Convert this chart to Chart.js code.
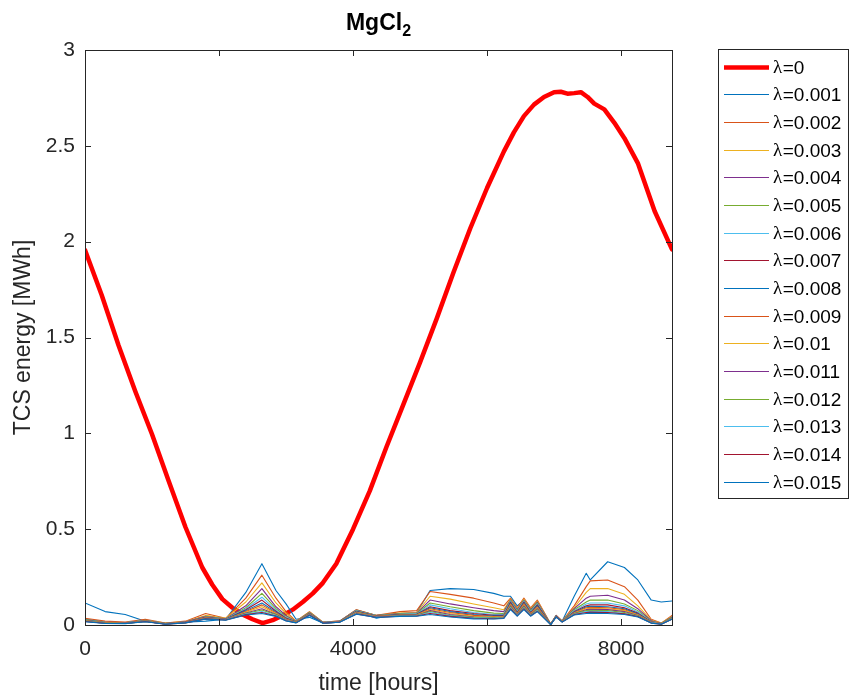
<!DOCTYPE html>
<html>
<head>
<meta charset="utf-8">
<title>MgCl2 TCS energy</title>
<script src="https://cdn.jsdelivr.net/npm/chart.js@4.4.1/dist/chart.umd.min.js"></script>
<style>
  html, body { margin: 0; padding: 0; background: #fff; }
  #wrap { width: 854px; height: 699px; }
</style>
</head>
<body>
<div id="wrap"><canvas id="tcsChart" width="854" height="699"></canvas></div>
<script>
var X_TICKS = [0, 2000, 4000, 6000, 8000];
var Y_TICKS = [0, 0.5, 1, 1.5, 2, 2.5, 3];

// time axis for the lambda > 0 runs (hours)
var HOURS = [0, 300, 600, 900, 1200, 1500, 1800, 2100, 2400, 2640,
             2850, 3000, 3150, 3350, 3550, 3800, 4050, 4350, 4700, 4950,
             5150, 5450, 5800, 6100, 6250, 6350, 6450, 6550, 6650, 6750,
             6950, 7030, 7120, 7300, 7480, 7540, 7800, 8050, 8250, 8450,
             8600, 8760];

// lambda = 0 run
var RED_HOURS = [0, 250, 500, 750, 1000, 1250, 1500, 1750, 1900, 2050,
                 2200, 2350, 2500, 2650, 2800, 2950, 3100, 3250, 3400, 3550,
                 3750, 4000, 4250, 4500, 4750, 5000, 5250, 5500, 5750, 6000,
                 6250, 6400, 6550, 6700, 6850, 7000, 7100, 7200, 7300, 7400,
                 7500, 7600, 7750, 7900, 8050, 8250, 8500, 8760];
var RED_ENERGY = [1.956, 1.72, 1.46, 1.22, 0.995, 0.75, 0.51, 0.30, 0.21, 0.135,
                  0.09, 0.055, 0.03, 0.01, 0.025, 0.05, 0.08, 0.12, 0.165, 0.22,
                  0.32, 0.50, 0.70, 0.93, 1.15, 1.37, 1.60, 1.84, 2.07, 2.28,
                  2.47, 2.57, 2.655, 2.715, 2.755, 2.78, 2.782, 2.772, 2.775, 2.78,
                  2.755, 2.72, 2.69, 2.62, 2.54, 2.41, 2.16, 1.96];

var lam001 = [0.115, 0.07, 0.055, 0.02, 0.01, 0.015, 0.02, 0.03, 0.17, 0.32, 0.18, 0.11, 0.03, 0.04, 0.01, 0.015, 0.07, 0.035, 0.06, 0.065, 0.18, 0.19, 0.185, 0.165, 0.15, 0.15, 0.1, 0.13, 0.08, 0.1, 0.005, 0.04, 0.02, 0.15, 0.27, 0.235, 0.33, 0.30, 0.235, 0.13, 0.12, 0.125];
var lam002 = [0.035, 0.02, 0.015, 0.03, 0.01, 0.02, 0.06, 0.035, 0.14, 0.26, 0.14, 0.07, 0.02, 0.07, 0.015, 0.02, 0.08, 0.05, 0.07, 0.075, 0.175, 0.16, 0.14, 0.115, 0.1, 0.14, 0.09, 0.14, 0.09, 0.13, 0.005, 0.05, 0.02, 0.1, 0.2, 0.23, 0.235, 0.2, 0.13, 0.03, 0.01, 0.05];
var lam003 = [0.03, 0.015, 0.012, 0.025, 0.01, 0.018, 0.05, 0.035, 0.12, 0.22, 0.115, 0.06, 0.02, 0.068, 0.015, 0.02, 0.08, 0.05, 0.062, 0.065, 0.15, 0.135, 0.11, 0.09, 0.08, 0.135, 0.085, 0.135, 0.085, 0.125, 0.005, 0.05, 0.02, 0.09, 0.17, 0.19, 0.19, 0.16, 0.1, 0.025, 0.01, 0.045];
var lam004 = [0.03, 0.015, 0.012, 0.025, 0.008, 0.017, 0.045, 0.033, 0.1, 0.19, 0.095, 0.05, 0.018, 0.066, 0.014, 0.02, 0.078, 0.05, 0.06, 0.062, 0.13, 0.11, 0.09, 0.075, 0.07, 0.13, 0.08, 0.13, 0.08, 0.12, 0.004, 0.05, 0.02, 0.085, 0.14, 0.15, 0.155, 0.13, 0.085, 0.022, 0.008, 0.042];
var lam005 = [0.028, 0.014, 0.011, 0.024, 0.008, 0.016, 0.043, 0.032, 0.09, 0.165, 0.085, 0.045, 0.017, 0.064, 0.013, 0.019, 0.076, 0.049, 0.058, 0.06, 0.115, 0.095, 0.075, 0.062, 0.06, 0.128, 0.075, 0.128, 0.075, 0.115, 0.004, 0.048, 0.02, 0.08, 0.12, 0.13, 0.13, 0.11, 0.075, 0.02, 0.008, 0.04];
var lam006 = [0.026, 0.013, 0.011, 0.023, 0.007, 0.015, 0.041, 0.031, 0.085, 0.145, 0.078, 0.04, 0.016, 0.062, 0.013, 0.019, 0.074, 0.048, 0.056, 0.058, 0.105, 0.085, 0.065, 0.055, 0.055, 0.125, 0.07, 0.125, 0.07, 0.11, 0.004, 0.048, 0.019, 0.075, 0.11, 0.115, 0.115, 0.1, 0.068, 0.018, 0.007, 0.038];
var lam007 = [0.025, 0.012, 0.01, 0.022, 0.007, 0.015, 0.04, 0.03, 0.08, 0.13, 0.072, 0.036, 0.015, 0.06, 0.012, 0.018, 0.072, 0.047, 0.054, 0.056, 0.095, 0.075, 0.06, 0.05, 0.05, 0.12, 0.065, 0.12, 0.065, 0.105, 0.004, 0.047, 0.019, 0.07, 0.1, 0.105, 0.105, 0.09, 0.062, 0.017, 0.007, 0.037];
var lam008 = [0.024, 0.012, 0.01, 0.021, 0.006, 0.014, 0.038, 0.03, 0.075, 0.115, 0.067, 0.033, 0.015, 0.058, 0.012, 0.018, 0.07, 0.046, 0.053, 0.055, 0.09, 0.07, 0.055, 0.047, 0.048, 0.115, 0.062, 0.115, 0.062, 0.1, 0.003, 0.046, 0.018, 0.067, 0.095, 0.097, 0.095, 0.085, 0.058, 0.016, 0.006, 0.036];
var lam009 = [0.023, 0.011, 0.009, 0.02, 0.006, 0.014, 0.037, 0.029, 0.07, 0.105, 0.063, 0.031, 0.014, 0.057, 0.011, 0.017, 0.068, 0.045, 0.052, 0.053, 0.085, 0.065, 0.05, 0.044, 0.046, 0.11, 0.06, 0.11, 0.06, 0.095, 0.003, 0.046, 0.018, 0.064, 0.09, 0.092, 0.09, 0.08, 0.055, 0.015, 0.006, 0.035];
var lam010 = [0.022, 0.011, 0.009, 0.02, 0.006, 0.013, 0.036, 0.028, 0.066, 0.095, 0.06, 0.029, 0.014, 0.056, 0.011, 0.017, 0.066, 0.044, 0.05, 0.052, 0.08, 0.06, 0.045, 0.041, 0.044, 0.105, 0.057, 0.105, 0.057, 0.09, 0.003, 0.045, 0.018, 0.062, 0.085, 0.087, 0.085, 0.075, 0.052, 0.014, 0.006, 0.034];
var lam011 = [0.021, 0.01, 0.009, 0.019, 0.005, 0.013, 0.035, 0.028, 0.063, 0.085, 0.056, 0.027, 0.013, 0.055, 0.011, 0.016, 0.064, 0.043, 0.049, 0.05, 0.075, 0.055, 0.042, 0.039, 0.042, 0.1, 0.054, 0.1, 0.054, 0.085, 0.003, 0.045, 0.017, 0.06, 0.08, 0.082, 0.08, 0.07, 0.05, 0.013, 0.005, 0.033];
var lam012 = [0.02, 0.01, 0.008, 0.019, 0.005, 0.012, 0.034, 0.027, 0.06, 0.078, 0.053, 0.025, 0.013, 0.054, 0.01, 0.016, 0.062, 0.042, 0.048, 0.049, 0.07, 0.05, 0.04, 0.037, 0.04, 0.095, 0.052, 0.095, 0.052, 0.08, 0.003, 0.044, 0.017, 0.058, 0.075, 0.077, 0.075, 0.065, 0.048, 0.012, 0.005, 0.032];
var lam013 = [0.019, 0.009, 0.008, 0.018, 0.005, 0.012, 0.033, 0.027, 0.057, 0.07, 0.05, 0.024, 0.012, 0.053, 0.01, 0.015, 0.06, 0.041, 0.047, 0.048, 0.065, 0.048, 0.037, 0.035, 0.038, 0.09, 0.05, 0.09, 0.05, 0.075, 0.002, 0.044, 0.016, 0.056, 0.07, 0.072, 0.07, 0.06, 0.046, 0.011, 0.005, 0.031];
var lam014 = [0.018, 0.009, 0.008, 0.018, 0.004, 0.011, 0.032, 0.026, 0.054, 0.065, 0.047, 0.022, 0.012, 0.052, 0.01, 0.015, 0.058, 0.04, 0.046, 0.047, 0.06, 0.045, 0.035, 0.033, 0.036, 0.085, 0.048, 0.085, 0.048, 0.072, 0.002, 0.043, 0.016, 0.054, 0.065, 0.067, 0.065, 0.058, 0.044, 0.01, 0.004, 0.03];
var lam015 = [0.017, 0.008, 0.007, 0.017, 0.004, 0.011, 0.031, 0.025, 0.052, 0.06, 0.045, 0.021, 0.011, 0.05, 0.009, 0.014, 0.056, 0.039, 0.045, 0.046, 0.055, 0.042, 0.032, 0.031, 0.034, 0.08, 0.046, 0.08, 0.046, 0.07, 0.002, 0.042, 0.015, 0.052, 0.06, 0.062, 0.06, 0.055, 0.042, 0.01, 0.004, 0.03];

var LAMBDAS = ['0', '0.001', '0.002', '0.003', '0.004', '0.005', '0.006', '0.007',
               '0.008', '0.009', '0.01', '0.011', '0.012', '0.013', '0.014', '0.015'];
var SERIES = [lam001, lam002, lam003, lam004, lam005, lam006, lam007, lam008,
              lam009, lam010, lam011, lam012, lam013, lam014, lam015];

// matlab default line colour order
var COLORS = ['#0072BD', '#D95319', '#EDB120', '#7E2F8E', '#77AC30', '#4DBEEE', '#A2142F'];
var AXIS_COLOR = '#262626';

var datasets = [];
datasets.push({
    label: 'λ=' + LAMBDAS[0],
    data: RED_HOURS.map(function(h, i) { return {x: h, y: RED_ENERGY[i]}; }),
    borderColor: '#ff0000',
    borderWidth: 4.5,
    order: 100
});
SERIES.forEach(function(s, k) {
    datasets.push({
        label: 'λ=' + LAMBDAS[k + 1],
        data: HOURS.map(function(h, i) { return {x: h, y: s[i]}; }),
        borderColor: COLORS[k % COLORS.length],
        borderWidth: 1.1,
        order: 15 - k
    });
});

// box round the axes, inward ticks on all four sides
var axesBox = {
    id: 'axesBox',
    afterDatasetsDraw: function(chart) {
        var ctx = chart.ctx, a = chart.chartArea;
        var xs = chart.scales.x, ys = chart.scales.y;
        var len = 6;
        ctx.save();
        ctx.strokeStyle = AXIS_COLOR;
        ctx.lineWidth = 1;
        ctx.strokeRect(a.left + 0.5, a.top + 0.5, a.right - a.left, a.bottom - a.top);
        ctx.beginPath();
        xs.ticks.forEach(function(t) {
            var px = Math.round(xs.getPixelForValue(t.value)) + 0.5;
            ctx.moveTo(px, a.bottom); ctx.lineTo(px, a.bottom - len);
            ctx.moveTo(px, a.top); ctx.lineTo(px, a.top + len);
        });
        ys.ticks.forEach(function(t) {
            var py = Math.round(ys.getPixelForValue(t.value)) + 0.5;
            ctx.moveTo(a.left, py); ctx.lineTo(a.left + len, py);
            ctx.moveTo(a.right, py); ctx.lineTo(a.right - len, py);
        });
        ctx.stroke();
        ctx.restore();
    }
};

// title with subscript
var subTitle = {
    id: 'subTitle',
    afterDraw: function(chart) {
        var ctx = chart.ctx, a = chart.chartArea;
        var cx = (a.left + a.right) / 2;
        ctx.save();
        ctx.fillStyle = '#000';
        ctx.textBaseline = 'alphabetic';
        ctx.font = 'bold 23px "Liberation Sans", Arial, sans-serif';
        var w1 = ctx.measureText('MgCl').width;
        ctx.font = 'bold 16px "Liberation Sans", Arial, sans-serif';
        var w2 = ctx.measureText('2').width;
        var x0 = cx - (w1 + w2) / 2;
        ctx.textAlign = 'left';
        ctx.font = 'bold 23px "Liberation Sans", Arial, sans-serif';
        ctx.fillText('MgCl', x0, 30);
        ctx.font = 'bold 16px "Liberation Sans", Arial, sans-serif';
        ctx.fillText('2', x0 + w1, 36);
        ctx.restore();
    }
};

// boxed legend to the right of the axes
var boxLegend = {
    id: 'boxLegend',
    afterDraw: function(chart) {
        var ctx = chart.ctx;
        var left = 718, top = 49, right = 848, bottom = 498;
        var rowH = 27.67, firstY = 66.5;
        ctx.save();
        ctx.fillStyle = '#fff';
        ctx.fillRect(left, top, right - left, bottom - top);
        ctx.strokeStyle = AXIS_COLOR;
        ctx.lineWidth = 1;
        ctx.strokeRect(left + 0.5, top + 0.5, right - left, bottom - top);
        chart.data.datasets.forEach(function(ds, i) {
            var y = Math.round(firstY + i * rowH) + 0.5;
            ctx.strokeStyle = ds.borderColor;
            ctx.lineWidth = i === 0 ? 4.5 : 1;
            ctx.beginPath();
            ctx.moveTo(724, y);
            ctx.lineTo(769, y);
            ctx.stroke();
            ctx.fillStyle = '#000';
            ctx.textBaseline = 'middle';
            ctx.textAlign = 'left';
            ctx.font = '19px "Liberation Serif", "Times New Roman", serif';
            ctx.fillText('λ', 773, y + 1);
            var lw = ctx.measureText('λ').width;
            ctx.font = '19px "Liberation Sans", Arial, sans-serif';
            ctx.fillText('=' + LAMBDAS[i], 773 + lw + 0.5, y + 1);
        });
        ctx.restore();
    }
};

Chart.defaults.font.family = '"Liberation Sans", Arial, sans-serif';
Chart.defaults.color = AXIS_COLOR;

function fixedTicks(list) {
    return function(scale) {
        scale.ticks = list.map(function(v) { return {value: v}; });
    };
}

new Chart(document.getElementById('tcsChart').getContext('2d'), {
    type: 'line',
    data: { datasets: datasets },
    options: {
        responsive: false,
        animation: false,
        parsing: false,
        normalized: true,
        elements: {
            point: { radius: 0 },
            line: { tension: 0, fill: false, borderCapStyle: 'round', borderJoinStyle: 'round' }
        },
        layout: { padding: { left: 0, right: 182, top: 50, bottom: 0 } },
        plugins: {
            legend: { display: false },
            title: { display: false },
            tooltip: { enabled: false }
        },
        scales: {
            x: {
                type: 'linear',
                min: 0,
                max: 8760,
                grid: { display: false, drawTicks: false },
                border: { display: false },
                afterBuildTicks: fixedTicks(X_TICKS),
                ticks: {
                    padding: 12,
                    maxRotation: 0,
                    autoSkip: false,
                    font: { size: 21 },
                    color: AXIS_COLOR,
                    callback: function(v) { return String(v); }
                },
                title: {
                    display: true,
                    text: 'time [hours]',
                    font: { size: 23 },
                    color: AXIS_COLOR,
                    padding: { top: 0, bottom: 2 }
                },
                afterFit: function(scale) { scale.height = 74; }
            },
            y: {
                type: 'linear',
                min: 0,
                max: 3,
                grid: { display: false, drawTicks: false },
                border: { display: false },
                afterBuildTicks: fixedTicks(Y_TICKS),
                ticks: {
                    padding: 10,
                    autoSkip: false,
                    font: { size: 21 },
                    color: AXIS_COLOR,
                    callback: function(v) { return String(v); }
                },
                title: {
                    display: true,
                    text: 'TCS energy [MWh]',
                    font: { size: 23 },
                    color: AXIS_COLOR,
                    padding: { top: 10, bottom: 0 }
                },
                afterFit: function(scale) { scale.width = 85; }
            }
        }
    },
    plugins: [axesBox, subTitle, boxLegend]
});
</script>
</body>
</html>
